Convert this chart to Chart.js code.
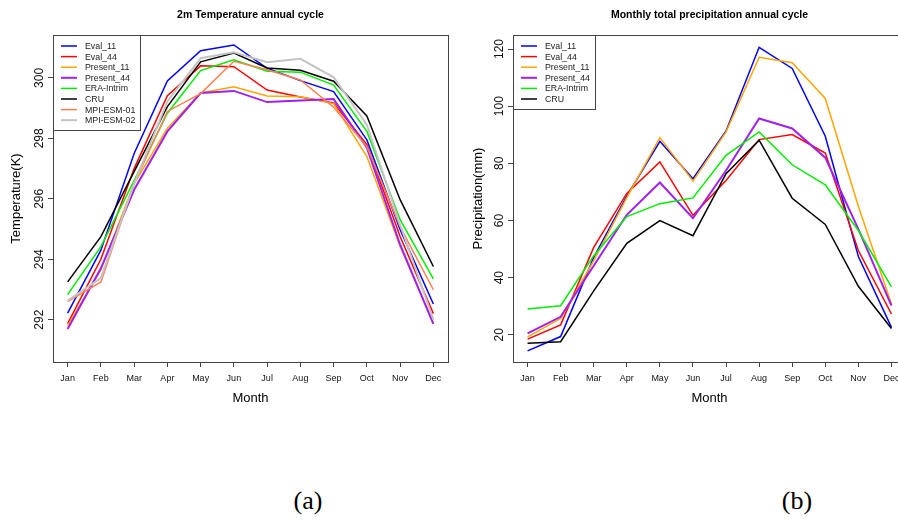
<!DOCTYPE html>
<html>
<head>
<meta charset="utf-8">
<script src="https://cdn.jsdelivr.net/npm/chart.js@4.4.1/dist/chart.umd.min.js"></script>
<style>
  html, body { margin: 0; padding: 0; background: #fff; overflow: hidden; }
  body { width: 898px; height: 520px; position: relative; }
  canvas { position: absolute; top: 0; }
  .tag { position: absolute; width: 80px; text-align: center; line-height: 26px;
         font-family: "Liberation Serif", "Times New Roman", serif; font-size: 26px; color: #000; }
</style>
</head>
<body>
<canvas id="tempChart" width="460" height="420" style="left:0"></canvas>
<canvas id="precChart" width="460" height="420" style="left:460px"></canvas>
<div class="tag" style="left:268px;top:488px">(a)</div>
<div class="tag" style="left:757px;top:488px">(b)</div>
<script>
// month labels and axis ticks
const months = ['Jan', 'Feb', 'Mar', 'Apr', 'May', 'Jun', 'Jul', 'Aug', 'Sep', 'Oct', 'Nov', 'Dec'];
const tempTicks = [292, 294, 296, 298, 300];
const precTicks = [20, 40, 60, 80, 100, 120];

// 2m temperature (K)
const eval11T    = [292.22, 294.30, 297.50, 299.90, 300.90, 301.09, 300.32, 299.91, 299.55, 297.95, 294.98, 292.52];
const eval44T    = [291.87, 294.00, 297.00, 299.41, 300.40, 300.37, 299.60, 299.37, 299.17, 297.79, 294.75, 292.20];
const present11T = [291.80, 293.65, 296.50, 298.34, 299.50, 299.71, 299.40, 299.38, 299.15, 297.40, 294.42, 291.90];
const present44T = [291.69, 293.70, 296.30, 298.23, 299.50, 299.57, 299.20, 299.25, 299.30, 297.69, 294.48, 291.86];
const eraT       = [292.83, 294.42, 296.60, 298.83, 300.24, 300.60, 300.22, 300.19, 299.76, 298.23, 295.31, 293.35];
const cruT       = [293.25, 294.75, 296.90, 299.05, 300.53, 300.82, 300.33, 300.25, 299.89, 298.74, 295.97, 293.76];
const mpi01T     = [292.60, 293.25, 296.50, 298.89, 299.48, 300.55, 300.27, 299.93, 299.03, 297.73, 295.08, 292.99];
const mpi02T     = [292.63, 293.38, 296.50, 299.22, 300.65, 300.85, 300.52, 300.63, 300.02, 298.45, 295.14, 292.00];

// monthly total precipitation (mm)
const eval11P    = [14.4, 19.4, 47.1, 68.5, 87.7, 74.6, 91.3, 120.6, 113.2, 89.5, 47.4, 22.6];
const eval44P    = [18.5, 23.5, 50.6, 69.5, 80.5, 61.8, 74.0, 88.3, 90.1, 83.6, 49.5, 27.3];
const present11P = [19.3, 25.7, 46.0, 68.0, 89.0, 73.8, 91.0, 117.1, 115.2, 102.7, 65.0, 30.8];
const present44P = [20.5, 26.3, 44.2, 62.0, 73.3, 60.8, 77.5, 95.7, 92.2, 82.0, 57.0, 30.2];
const eraP       = [29.0, 30.2, 47.7, 61.4, 65.9, 67.9, 82.8, 91.0, 79.5, 72.5, 56.5, 36.8];
const cruP       = [17.1, 17.6, 35.4, 52.0, 60.0, 54.7, 76.4, 88.1, 67.8, 58.6, 37.0, 22.2];

const FONT = '"Liberation Sans", Arial, sans-serif';

// line series -> {x: month number, y: value}
function series(label, values, color, width) {
  return {
    label: label,
    data: values.map((v, i) => ({ x: i + 1, y: v })),
    borderColor: color,
    borderWidth: width || 1.5,
    pointRadius: 0,
    tension: 0,
    fill: false
  };
}

// R-style frame, bold title and boxed legend inside the plot
const framePlugin = {
  id: 'rframe',
  afterDraw(chart, args, opts) {
    const ctx = chart.ctx;
    const a = chart.chartArea;
    const sets = chart.data.datasets;
    ctx.save();
    ctx.strokeStyle = '#444';
    ctx.lineWidth = 1;
    ctx.strokeRect(Math.round(a.left) + 0.5, Math.round(a.top) + 0.5,
                   Math.round(a.right - a.left), Math.round(a.bottom - a.top));

    ctx.font = 'bold 10.5px ' + FONT;
    ctx.fillStyle = '#000';
    ctx.textAlign = 'center';
    ctx.textBaseline = 'middle';
    ctx.fillText(opts.title, (a.left + a.right) / 2, 15.5);

    ctx.font = '8.8px ' + FONT;
    const rowH = 10.6;
    const w = 32 + Math.max(...sets.map(d => ctx.measureText(d.label).width)) + 5;
    const h = 11 + (sets.length - 1) * rowH + 9.5;
    const lx = Math.round(a.left) + 0.5, ly = Math.round(a.top) + 0.5;
    ctx.fillStyle = '#fff';
    ctx.fillRect(lx, ly, w, h);
    ctx.strokeStyle = '#444';
    ctx.strokeRect(lx, ly, Math.round(w), Math.round(h));
    ctx.textAlign = 'left';
    sets.forEach((d, i) => {
      const y = a.top + 11 + i * rowH;
      ctx.strokeStyle = d.borderColor;
      ctx.lineWidth = d.borderWidth;
      ctx.beginPath();
      ctx.moveTo(a.left + 8, y);
      ctx.lineTo(a.left + 24, y);
      ctx.stroke();
      ctx.fillStyle = '#222';
      ctx.fillText(d.label, a.left + 32, y + 0.5);
    });
    ctx.restore();
  }
};

function makeChart(id, title, yTitle, yMin, yMax, yTicks, datasets, yTitlePad) {
  datasets.forEach((d, i) => { d.order = datasets.length - i; });  // later series on top, as in R
  const tickGrid = { display: true, drawOnChartArea: false, drawTicks: true, tickLength: 5, color: '#444' };
  return new Chart(document.getElementById(id), {
    type: 'line',
    data: { datasets: datasets },
    options: {
      responsive: false,
      animation: false,
      layout: { padding: { top: 35, right: id === 'tempChart' ? 12 : 14, bottom: 12, left: 0 } },
      plugins: {
        legend: { display: false },
        tooltip: { enabled: false },
        rframe: { title: title }
      },
      scales: {
        x: {
          type: 'linear',
          min: 0.56,
          max: 12.44,
          afterBuildTicks: s => { s.ticks = months.map((m, i) => ({ value: i + 1 })); },
          afterFit: s => { s.height = 46; },
          ticks: {
            callback: v => months[v - 1],
            font: { size: 9, family: FONT },
            color: '#111',
            padding: 6,
            maxRotation: 0,
            autoSkip: false
          },
          grid: tickGrid,
          border: { display: false },
          title: { display: true, text: 'Month', color: '#000',
                   font: { size: 13, family: FONT }, padding: { top: 0, bottom: 2 } }
        },
        y: {
          type: 'linear',
          min: yMin,
          max: yMax,
          afterBuildTicks: s => { s.ticks = yTicks.map(v => ({ value: v })); },
          afterFit: s => { s.width = 53; },
          ticks: {
            font: { size: 12, family: FONT },
            color: '#111',
            padding: -2,
            minRotation: 90,
            maxRotation: 90,
            crossAlign: 'center'
          },
          grid: tickGrid,
          border: { display: false },
          title: { display: true, text: yTitle, color: '#000',
                   font: { size: 13, family: FONT }, padding: { top: yTitlePad, bottom: 0 } }
        }
      }
    },
    plugins: [framePlugin]
  });
}

makeChart('tempChart', '2m Temperature annual cycle', 'Temperature(K)', 290.6, 301.42, tempTicks, [
  series('Eval_11', eval11T, '#0000ff'),
  series('Eval_44', eval44T, '#ff0000'),
  series('Present_11', present11T, '#ffa500'),
  series('Present_44', present44T, '#a020f0', 2),
  series('ERA-Intrim', eraT, '#00ee00'),
  series('CRU', cruT, '#000000'),
  series('MPI-ESM-01', mpi01T, '#ff7f50'),
  series('MPI-ESM-02', mpi02T, '#c4c4c4', 2)
], 9);

makeChart('precChart', 'Monthly total precipitation annual cycle', 'Precipitation(mm)', 10.5, 124.9, precTicks, [
  series('Eval_11', eval11P, '#0000ff'),
  series('Eval_44', eval44P, '#ff0000'),
  series('Present_11', present11P, '#ffa500'),
  series('Present_44', present44P, '#a020f0', 2),
  series('ERA-Intrim', eraP, '#00ee00'),
  series('CRU', cruP, '#000000')
], 11);
</script>
</body>
</html>
